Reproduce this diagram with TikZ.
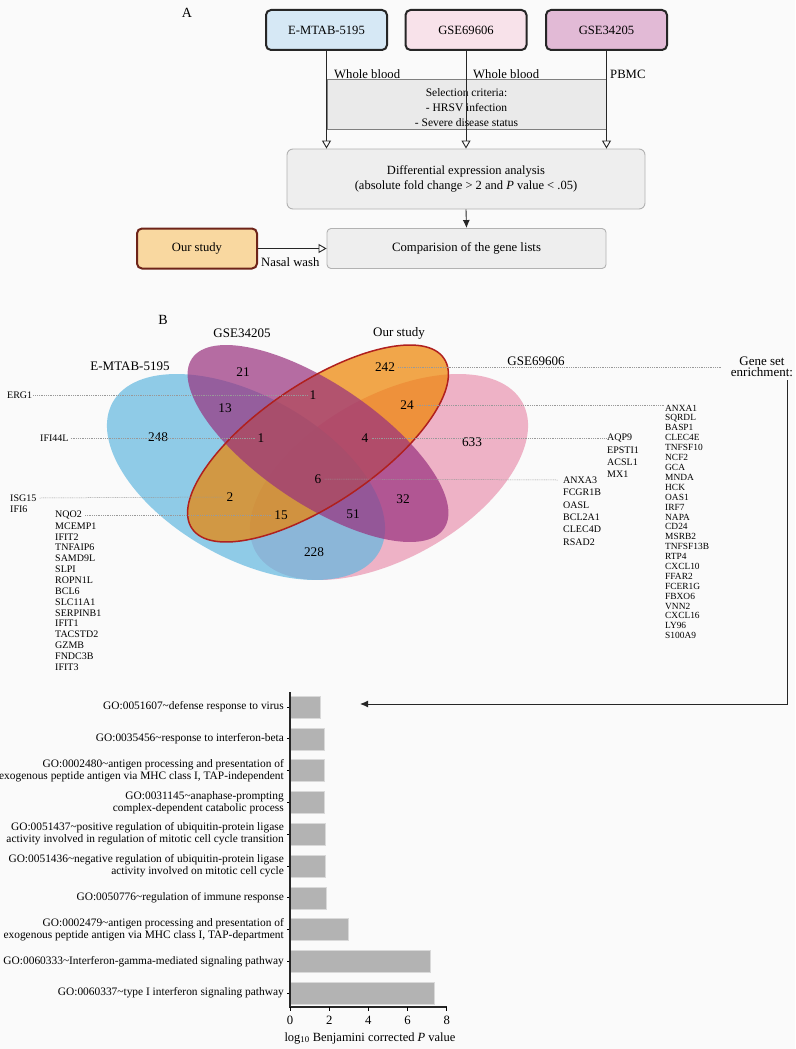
\documentclass[tikz,border=0pt]{standalone}
\usepackage{fontspec}
\setmainfont{Liberation Serif}
\usetikzlibrary{arrows.meta}
\definecolor{bgc}{HTML}{FAFAFA}
\definecolor{boxblue}{HTML}{D6E8F5}
\definecolor{boxpink}{HTML}{F8E2EA}
\definecolor{boxpurple}{HTML}{E2BAD6}
\definecolor{boxorange}{HTML}{F9D8A0}
\definecolor{oursborder}{HTML}{6E2419}
\definecolor{boxgray}{HTML}{EEEEEE}
\definecolor{selgray}{HTML}{EAEAEA}
\definecolor{vblue}{RGB}{98,184,224}
\definecolor{vpink}{RGB}{234,148,176}
\definecolor{vpurple}{RGB}{152,48,126}
\definecolor{vorange}{RGB}{238,131,0}
\definecolor{vred}{HTML}{B0201E}
\definecolor{barfill}{HTML}{B3B3B3}
\begin{document}
\begin{tikzpicture}[x=1pt,y=-1pt,
  txt/.style={inner sep=0pt, font=\fontsize{12.7}{14}\selectfont},
  srcbox/.style={draw=black!85, line width=2pt, rounded corners=5pt, minimum width=121pt, minimum height=40pt, font=\fontsize{12.6}{14}\selectfont},
  graybox/.style={draw=black!30, fill=boxgray, line width=0.9pt, rounded corners=6pt, font=\fontsize{12.5}{15}\selectfont, align=center},
  selbox/.style={draw=black!50, fill=selgray, line width=0.8pt, minimum width=279pt, minimum height=50pt},
  flow/.style={draw=black!85, line width=0.9pt},
  openarrow/.style={-{Triangle[open, length=8pt, width=9pt]}},
  fillarrow/.style={-{Latex[length=8pt, width=7pt]}},
  gene/.style={inner sep=0pt, anchor=west, font=\fontsize{10}{11}\selectfont},
  rgene/.style={inner sep=0pt, anchor=west, font=\fontsize{9.4}{10}\selectfont},
  vnum/.style={inner sep=0pt, font=\fontsize{13.3}{14}\selectfont},
  vlab/.style={inner sep=0pt, font=\fontsize{13}{14}\selectfont},
  golab/.style={inner sep=0pt, anchor=east, align=right, font=\fontsize{11.4}{12}\selectfont},
  leader/.style={draw=black!40, line width=0.5pt, dash pattern=on 1pt off 0.8pt},
  bar/.style={fill=barfill, draw=black!15, line width=0.5pt}
]
\fill[bgc] (0,0) rectangle (795,1049);
\useasboundingbox (0,0) rectangle (795,1049);

% ---------------- Part A ----------------
\node[txt, font=\fontsize{14}{14}\selectfont] (labA) at (187,13) {A};
\node[srcbox, fill=boxblue] (emtab) at (326.5,30) {E-MTAB-5195};
\node[srcbox, fill=boxpink] (gse696) at (466,30) {GSE69606};
\node[srcbox, fill=boxpurple] (gse342) at (606.5,30) {GSE34205};

\node[selbox] (sel) at (466.5,104) {};
\node[txt, align=center, font=\fontsize{11.5}{15}\selectfont] (seltxt) at (466.5,107.5) {Selection criteria:\\- HRSV infection\\- Severe disease status};

\node[graybox, minimum width=358pt, minimum height=60pt] (diff) at (466,179) {Differential expression analysis\\(absolute fold change > 2 and \textit{P} value < .05)};
\node[graybox, minimum width=279pt, minimum height=40pt, rounded corners=4pt, font=\fontsize{12.7}{15}\selectfont] (comp) at (466.5,248.5) {Comparision of the gene lists};
\node[srcbox, fill=boxorange, draw=oursborder, minimum width=120pt] (ours) at (197,248.5) {Our study};

\draw[flow, openarrow] (emtab.south) -- (emtab.south |- diff.north);
\draw[flow, openarrow] (gse696.south) -- (gse696.south |- diff.north);
\draw[flow, openarrow] (gse342.south) -- (gse342.south |- diff.north);
\draw[flow, fillarrow] (diff.south) -- (comp.north);
\draw[flow, openarrow] (ours.east) -- (comp.west);

\node[txt, anchor=west] (wb1) at (334,74) {Whole blood};
\node[txt, anchor=west] (wb2) at (473,74) {Whole blood};
\node[txt, anchor=west] (pbmc) at (610,74) {PBMC};
\node[txt, anchor=west] (nasal) at (261,262) {Nasal wash};

% ---------------- Part B : Venn ----------------
\node[txt, font=\fontsize{14}{14}\selectfont] (labB) at (163,320) {B};
\begin{scope}[fill opacity=0.7]
  \fill[vpink, rotate around={29.3:(389,477)}] (389,477) ellipse [x radius=152.8, y radius=81.2];
  \fill[vblue, rotate around={-29.3:(246,477)}] (246,477) ellipse [x radius=152.8, y radius=81.2];
  \fill[vorange, rotate around={34:(318,443.5)}] (318,443.5) ellipse [x radius=152, y radius=60];
  \fill[vpurple, rotate around={-34:(318,443.5)}] (318,443.5) ellipse [x radius=152, y radius=60];
\end{scope}
\draw[vred, line width=1.5pt, rotate around={34:(318,443.5)}] (318,443.5) ellipse [x radius=152, y radius=60];

\node[vlab] (tgse342) at (242,333) {GSE34205};
\node[vlab] (temtab) at (130,366) {E-MTAB-5195};
\node[vlab] (tours) at (399,333) {Our study};
\node[vlab] (tgse696) at (536,361) {GSE69606};
\node[vlab, align=center, font=\fontsize{13}{11.5}\selectfont] (gse) at (762,367) {Gene set\\enrichment:};

\node[vnum] (n21) at (243,372) {21};
\node[vnum] (n242) at (385,367) {242};
\node[vnum] (n1a) at (313,395) {1};
\node[vnum] (n13) at (225,408) {13};
\node[vnum] (n24) at (407,405) {24};
\node[vnum] (n248) at (158,437) {248};
\node[vnum] (n1b) at (261,438) {1};
\node[vnum] (n4) at (365,438) {4};
\node[vnum] (n633) at (472,442) {633};
\node[vnum] (n6) at (318,479) {6};
\node[vnum] (n32) at (403,499) {32};
\node[vnum] (n2) at (230,497) {2};
\node[vnum] (n15) at (281,515) {15};
\node[vnum] (n51) at (353,514) {51};
\node[vnum] (n228) at (314,552) {228};

% gene labels
\node[gene] (erg) at (7,395) {ERG1};
\node[gene] (ifi44l) at (40,438) {IFI44L};
\node[gene] (isg) at (10,498) {ISG15};
\node[gene] (ifi6) at (10,509) {IFI6};
\foreach \g [count=\i] in {NQO2,MCEMP1,IFIT2,TNFAIP6,SAMD9L,SLPI,ROPN1L,BCL6,SLC11A1,SERPINB1,IFIT1,TACSTD2,GZMB,FNDC3B,IFIT3}
  \node[gene] (L\i) at (55,{515+10.86*(\i-1)}) {\g};
\foreach \g [count=\i] in {AQP9,EPSTI1,ACSL1,MX1}
  \node[gene] (A\i) at (607,{438+12*(\i-1)}) {\g};
\foreach \g [count=\i] in {ANXA3,FCGR1B,OASL,BCL2A1,CLEC4D,RSAD2}
  \node[gene] (B\i) at (563,{480+12.4*(\i-1)}) {\g};
\foreach \g [count=\i] in {ANXA1,SQRDL,BASP1,CLEC4E,TNFSF10,NCF2,GCA,MNDA,HCK,OAS1,IRF7,NAPA,CD24,MSRB2,TNFSF13B,RTP4,CXCL10,FFAR2,FCER1G,FBXO6,VNN2,CXCL16,LY96,S100A9}
  \node[rgene] (R\i) at (665,{408+9.9*(\i-1)}) {\g};

% leader lines
\draw[leader] ([xshift=1pt]erg.east) -- ([xshift=-2pt]n1a.west);
\draw[leader] ([xshift=2pt]ifi44l.east) -- ([xshift=-2pt]n1b.west);
\draw[leader] ([xshift=3pt]isg.east) -- ([xshift=-3pt]n2.west);
\draw[leader] ([xshift=3pt]L1.east) -- ([xshift=-3pt]n15.west);
\draw[leader] ([xshift=3pt]n242.east) -- ([xshift=-10pt]gse.west |- n242.east);
\draw[leader] ([xshift=3pt]n24.east) -- (n24.east -| R1.west);
\draw[leader] ([xshift=3pt]n4.east) -- ([xshift=-1pt]A1.west);
\draw[leader] ([xshift=3pt]n6.east) -- ([xshift=-5pt]B1.west);

% gene set enrichment arrow
\coordinate (gsecorner) at (787,380);
\coordinate (arrtip) at (360,704);
\draw[flow, line width=1pt, fillarrow] (gsecorner) |- (arrtip);

% ---------------- Bar chart ----------------
\foreach \v/\yc in {1.53/707,1.73/738.8,1.73/770.6,1.77/802.4,1.79/834.2,1.80/866,1.87/897.8,2.97/929.6,7.13/961.4,7.35/993.2}{
  \draw[bar] (290,\yc-11) rectangle ({290+19.6*\v},\yc+11);
  \draw[line width=0.9pt] (290,\yc) -- (287,\yc);
}
\draw[line width=1.1pt, black!85] (290,692) -- (290,1007) -- (447,1007);
\foreach \t in {0,2,4,6,8}{
  \draw[line width=0.9pt] ({290+19.6*\t},1007) -- ({290+19.6*\t},1011);
  \node[txt] (xt\t) at ({290+19.6*\t},1020) {\t};
}
\node[txt, font=\fontsize{12.5}{14}\selectfont] (xtitle) at (370,1038) {log\textsubscript{10} Benjamini corrected \textit{P} value};

\node[golab] (go1) at (284,707) {GO:0051607\textasciitilde defense response to virus};
\node[golab] (go2) at (284,738.8) {GO:0035456\textasciitilde response to interferon-beta};
\node[golab] (go3) at (284,770.6) {GO:0002480\textasciitilde antigen processing and presentation of\\exogenous peptide antigen via MHC class I, TAP-independent};
\node[golab] (go4) at (284,802.4) {GO:0031145\textasciitilde anaphase-prompting\\complex-dependent catabolic process};
\node[golab] (go5) at (284,834.2) {GO:0051437\textasciitilde positive regulation of ubiquitin-protein ligase\\activity involved in regulation of mitotic cell cycle transition};
\node[golab] (go6) at (284,866) {GO:0051436\textasciitilde negative regulation of ubiquitin-protein ligase\\activity involved on mitotic cell cycle};
\node[golab] (go7) at (284,897.8) {GO:0050776\textasciitilde regulation of immune response};
\node[golab] (go8) at (284,929.6) {GO:0002479\textasciitilde antigen processing and presentation of\\exogenous peptide antigen via MHC class I, TAP-department};
\node[golab] (go9) at (284,961.4) {GO:0060333\textasciitilde Interferon-gamma-mediated signaling pathway};
\node[golab] (go10) at (284,993.2) {GO:0060337\textasciitilde type I interferon signaling pathway};
\end{tikzpicture}
\end{document}
